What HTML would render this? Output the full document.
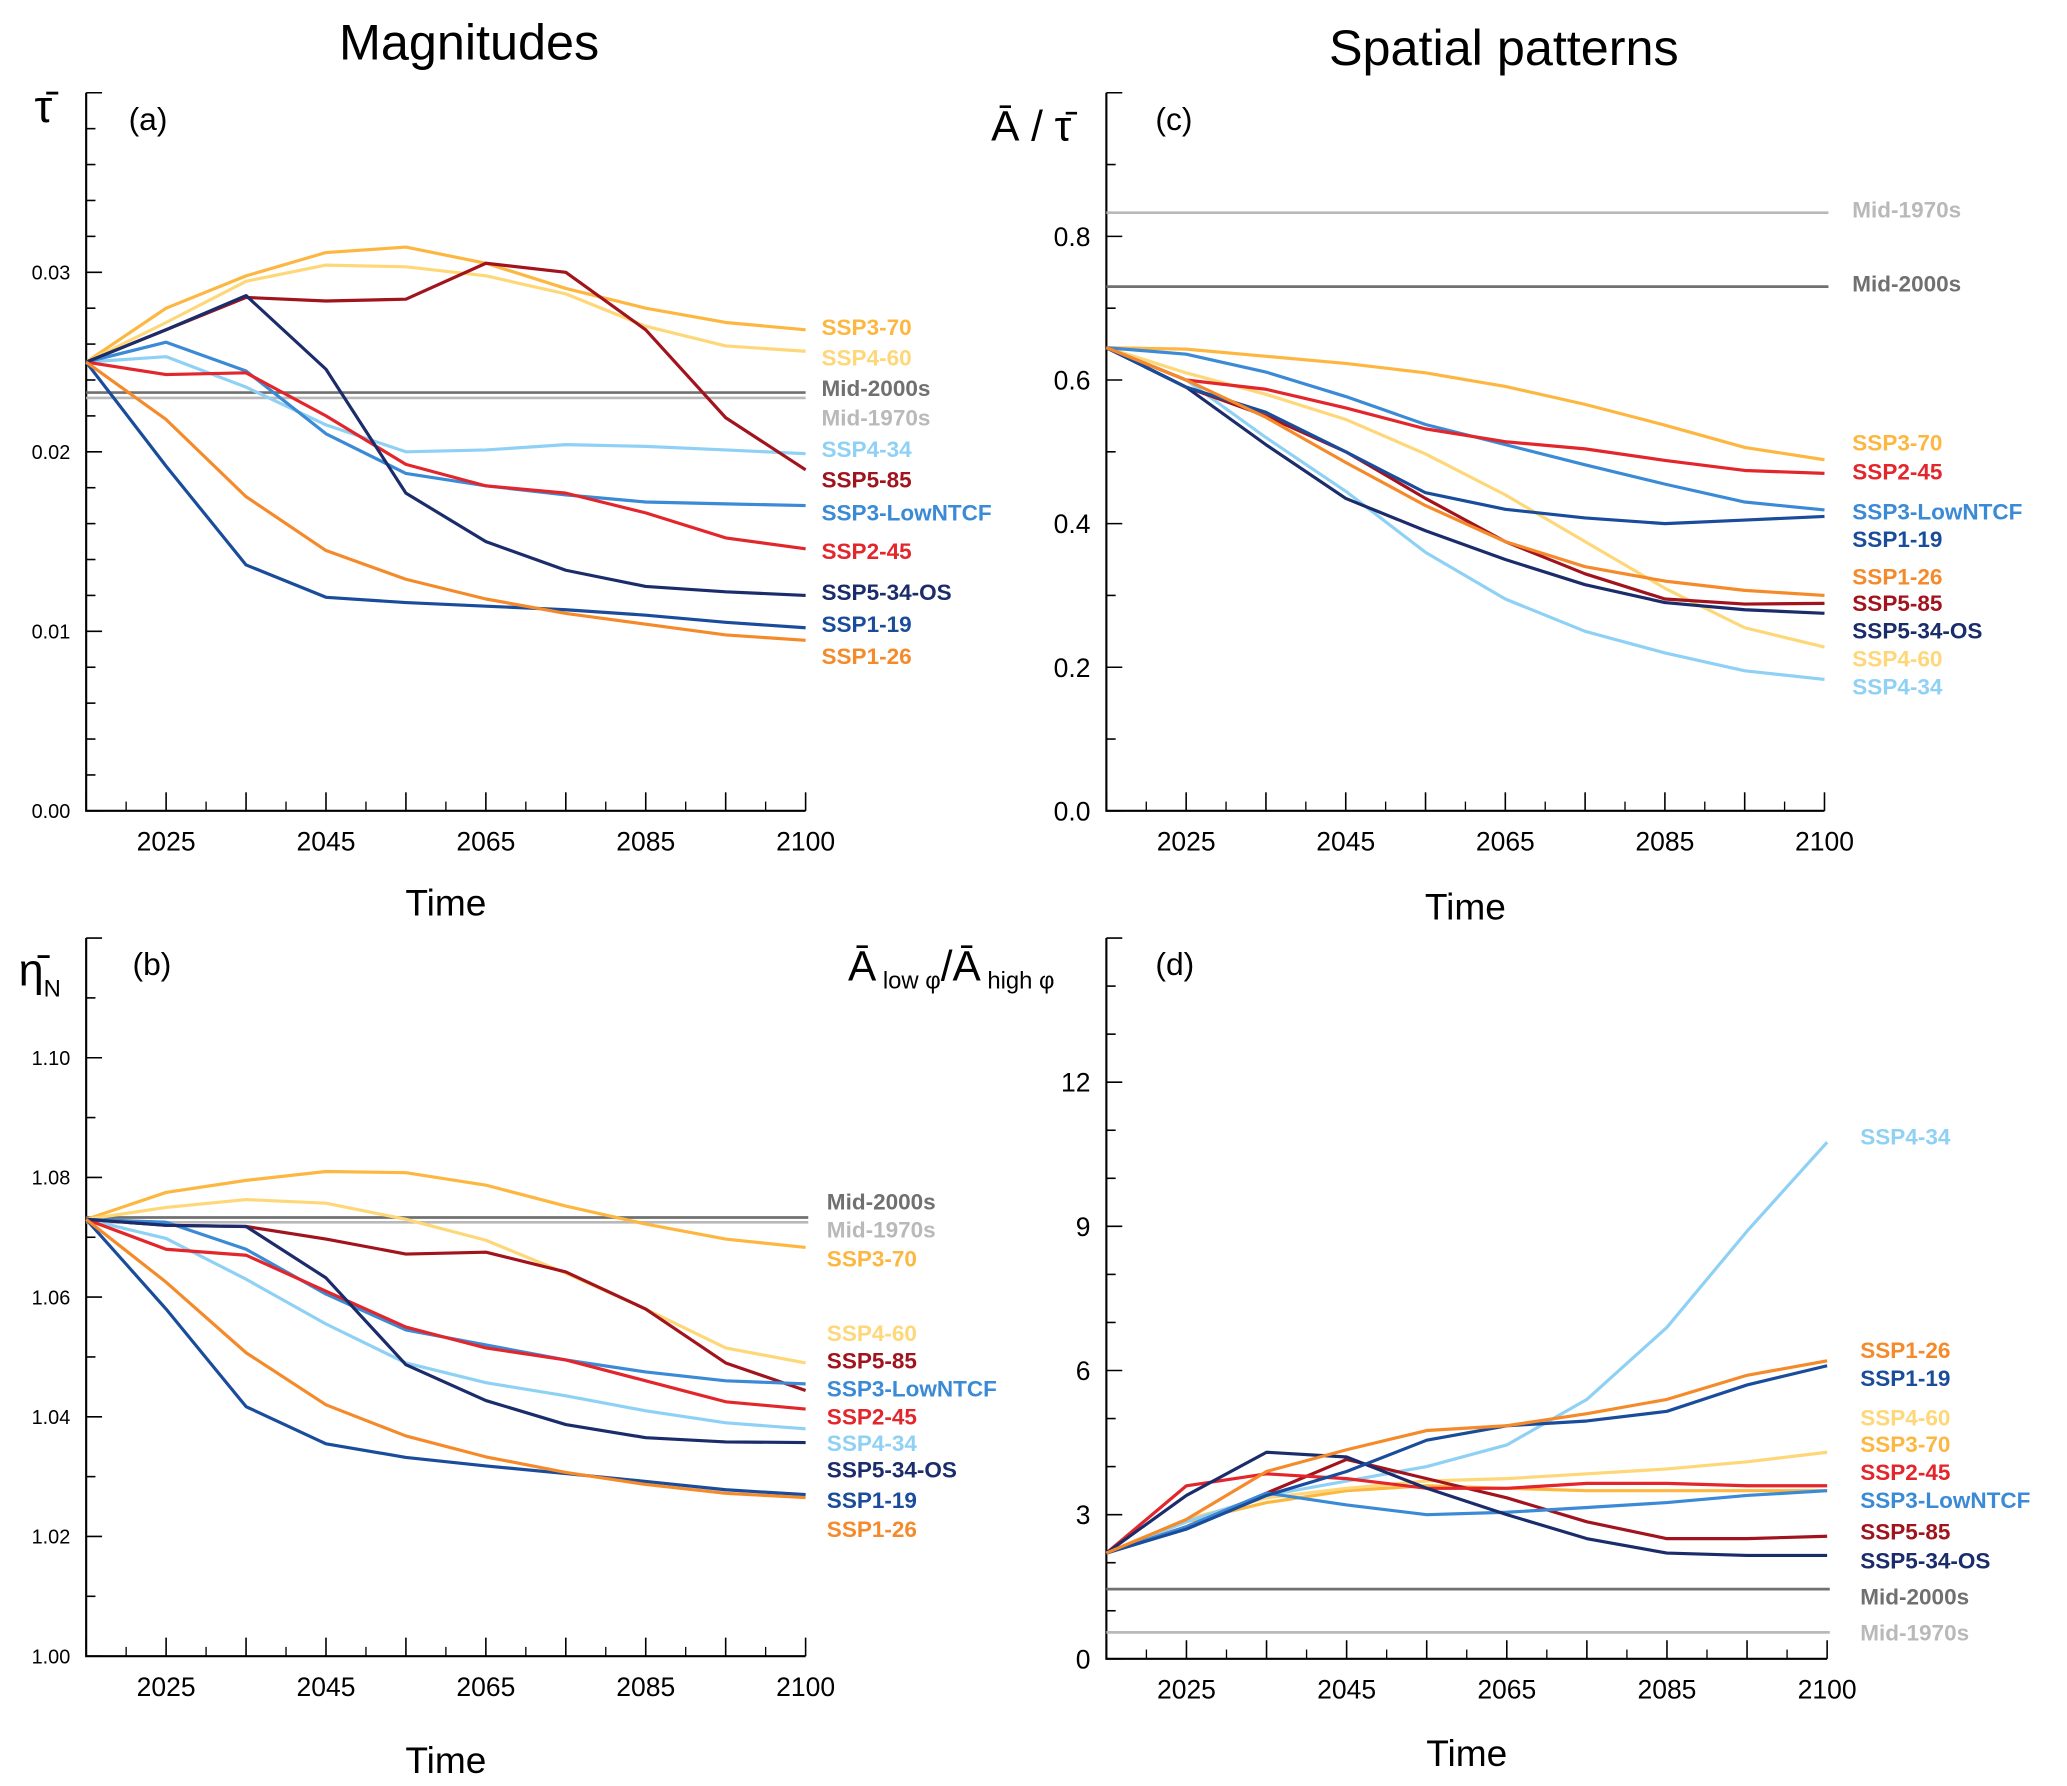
<!DOCTYPE html>
<html><head><meta charset="utf-8">
<style>
html,body{margin:0;padding:0;background:#fff}
svg{display:block}
text{font-family:"Liberation Sans",sans-serif}
</style></head>
<body>
<svg id="chart" width="2067" height="1786" viewBox="0 0 1560 1348" xmlns="http://www.w3.org/2000/svg">
<text x="354" y="45" font-size="38" text-anchor="middle">Magnitudes</text>
<text x="1135" y="49" font-size="38" text-anchor="middle">Spatial patterns</text>
<text x="26" y="92" font-size="34">τ̄</text>
<text x="748" y="106" font-size="32">Ā / τ̄</text>
<text x="14" y="744" font-size="34">η̄<tspan font-size="18" dy="8">N</tspan></text>
<text x="640" y="740" font-size="32">Ā<tspan font-size="18" dy="6"> low φ</tspan><tspan dy="-6">/Ā</tspan><tspan font-size="18" dy="6"> high φ</tspan></text>
<g id="panels"></g>
</svg>
<script>
const xLabels = ["", "2025", "", "2045", "", "2065", "", "2085", "", "2100"];
const seriesNames = ["SSP3-70","SSP4-60","SSP4-34","SSP5-85","SSP3-LowNTCF","SSP2-45","SSP5-34-OS","SSP1-19","SSP1-26"];
const seriesColors = {"SSP3-70":"#fdb740","SSP4-60":"#fed779","SSP4-34":"#8fd1f5","SSP5-85":"#a1141d","SSP3-LowNTCF":"#3b8ad6","SSP2-45":"#e2262b","SSP5-34-OS":"#1b2c6b","SSP1-19":"#1a4c9c","SSP1-26":"#f58a2b","Mid-2000s":"#707070","Mid-1970s":"#b9b9b9"};

const aValues = {
"SSP3-70":[0.025,0.0280,0.0298,0.0311,0.0314,0.0305,0.0291,0.0280,0.0272,0.0268],
"SSP4-60":[0.025,0.0272,0.0295,0.0304,0.0303,0.0298,0.0288,0.0270,0.0259,0.0256],
"SSP5-85":[0.025,0.0268,0.0286,0.0284,0.0285,0.0305,0.0300,0.0268,0.0219,0.0190],
"SSP5-34-OS":[0.025,0.0268,0.0287,0.0246,0.0177,0.0150,0.0134,0.0125,0.0122,0.0120],
"SSP3-LowNTCF":[0.025,0.0261,0.0245,0.0210,0.0188,0.0181,0.0176,0.0172,0.0171,0.0170],
"SSP4-34":[0.025,0.0253,0.0236,0.0215,0.0200,0.0201,0.0204,0.0203,0.0201,0.0199],
"SSP2-45":[0.025,0.0243,0.0244,0.0220,0.0193,0.0181,0.0177,0.0166,0.0152,0.0146],
"SSP1-19":[0.025,0.0192,0.0137,0.0119,0.0116,0.0114,0.0112,0.0109,0.0105,0.0102],
"SSP1-26":[0.025,0.0218,0.0175,0.0145,0.0129,0.0118,0.0110,0.0104,0.0098,0.0095]};
const aRefs = {"Mid-2000s":0.0233,"Mid-1970s":0.0230};
const aTicks = ["0.00","0.01","0.02","0.03"];

const cValues = {
"SSP3-70":[0.645,0.643,0.633,0.623,0.610,0.591,0.566,0.537,0.506,0.489],
"SSP2-45":[0.645,0.600,0.587,0.561,0.532,0.514,0.504,0.488,0.474,0.470],
"SSP3-LowNTCF":[0.645,0.636,0.611,0.577,0.538,0.510,0.482,0.455,0.430,0.419],
"SSP1-19":[0.645,0.590,0.555,0.500,0.443,0.420,0.408,0.400,0.405,0.410],
"SSP1-26":[0.645,0.600,0.548,0.485,0.425,0.375,0.340,0.320,0.307,0.300],
"SSP5-85":[0.645,0.590,0.550,0.500,0.435,0.375,0.330,0.295,0.288,0.289],
"SSP5-34-OS":[0.645,0.590,0.510,0.435,0.390,0.350,0.315,0.290,0.280,0.275],
"SSP4-60":[0.645,0.610,0.580,0.545,0.497,0.440,0.375,0.310,0.255,0.228],
"SSP4-34":[0.645,0.600,0.520,0.445,0.360,0.295,0.250,0.220,0.195,0.183]};
const cRefs = {"Mid-1970s":0.833,"Mid-2000s":0.730};
const cTicks = ["0.0","0.2","0.4","0.6","0.8"];

const bValues = {
"SSP3-70":[1.073,1.0775,1.0795,1.081,1.0808,1.0787,1.0752,1.0722,1.0697,1.0683],
"SSP4-60":[1.073,1.075,1.0763,1.0757,1.073,1.0695,1.064,1.058,1.0515,1.049],
"SSP5-85":[1.073,1.072,1.0718,1.0697,1.0672,1.0675,1.0642,1.058,1.049,1.0444],
"SSP5-34-OS":[1.073,1.072,1.0718,1.0632,1.0487,1.0427,1.0387,1.0365,1.0358,1.0357],
"SSP3-LowNTCF":[1.073,1.0725,1.068,1.0605,1.0545,1.052,1.0495,1.0475,1.046,1.0455],
"SSP2-45":[1.073,1.068,1.067,1.061,1.055,1.0515,1.0495,1.046,1.0425,1.0413],
"SSP4-34":[1.073,1.0698,1.063,1.0555,1.049,1.0457,1.0435,1.041,1.039,1.038],
"SSP1-19":[1.073,1.058,1.0417,1.0355,1.0332,1.0318,1.0305,1.0292,1.0278,1.0270],
"SSP1-26":[1.073,1.0625,1.0507,1.042,1.0368,1.0333,1.0307,1.0287,1.0272,1.0265]};
const bRefs = {"Mid-2000s":1.0733,"Mid-1970s":1.0725};
const bTicks = ["1.00","1.02","1.04","1.06","1.08","1.10"];

const dValues = {
"SSP4-34":[2.2,2.85,3.4,3.7,4.0,4.45,5.4,6.9,8.9,10.75],
"SSP1-26":[2.2,2.9,3.9,4.35,4.75,4.85,5.1,5.4,5.9,6.2],
"SSP1-19":[2.2,2.7,3.4,3.9,4.55,4.85,4.95,5.15,5.7,6.1],
"SSP4-60":[2.2,2.9,3.35,3.55,3.7,3.75,3.85,3.95,4.1,4.3],
"SSP3-70":[2.2,2.85,3.25,3.5,3.6,3.55,3.5,3.5,3.5,3.5],
"SSP2-45":[2.2,3.6,3.85,3.75,3.55,3.55,3.65,3.65,3.6,3.6],
"SSP3-LowNTCF":[2.2,2.75,3.45,3.2,3.0,3.05,3.15,3.25,3.4,3.5],
"SSP5-85":[2.2,2.75,3.45,4.15,3.75,3.35,2.85,2.5,2.5,2.55],
"SSP5-34-OS":[2.2,3.4,4.3,4.2,3.55,3.0,2.5,2.2,2.15,2.15]};
const dRefs = {"Mid-2000s":1.45,"Mid-1970s":0.55};
const dTicks = ["0","3","6","9","12"];

const NS = "http://www.w3.org/2000/svg";
const root = document.getElementById("panels");
function mk(tag, attrs, parent){const e=document.createElementNS(NS,tag);for(const k in attrs)e.setAttribute(k,attrs[k]);(parent||root).appendChild(e);return e;}

function panel(cfg){
  const g = mk("g",{});
  
  
  const {x0,x1,yTop,yBot,vMin,vMax} = cfg;
  const n = xLabels.length;
  const xs = i => x0 + (x1-x0)*i/(n-1);
  const ys = v => yBot - (v - vMin)/(vMax - vMin)*(yBot - yTop);
  const ax = mk("path",{d:`M${x0},${yTop}V${yBot}H${x1}`,stroke:"#000","stroke-width":1.6,fill:"none"},g);
  
  
  const majorStep = (vMax - vMin)/ (cfg.ticks.length - 1 + cfg.extraMajor);
  const nMinor = cfg.minorPer;
  const totalMinor = Math.round((vMax-vMin)/majorStep*nMinor);
  for(let k=0;k<=totalMinor;k++){
    const v = vMin + k*majorStep/nMinor;
    const y = ys(v);
    const isMaj = k % nMinor === 0;
    const t = mk("line",{x1:x0,x2:x0+(isMaj?12:7),y1:y,y2:y,stroke:"#000","stroke-width":1.2},g);
    
    
  }
  cfg.ticks.forEach((lab,k)=>{
    const v = vMin + k*majorStep;
    const t = mk("text",{x:x0-12,y:ys(v)+cfg.tickFs*0.36,"font-size":cfg.tickFs,"text-anchor":"end"},g);
    t.textContent = lab;
    
    
  });
  for(let i=0;i<n;i++){
    const t = mk("line",{x1:xs(i),x2:xs(i),y1:yBot,y2:yBot-14,stroke:"#000","stroke-width":1.2},g);
    
    
    if(i<n-1){
      const m = mk("line",{x1:(xs(i)+xs(i+1))/2,x2:(xs(i)+xs(i+1))/2,y1:yBot,y2:yBot-7,stroke:"#000","stroke-width":1},g);
      
      
    }
    if(xLabels[i]){
      const l = mk("text",{x:xs(i),y:yBot+30,"font-size":20,"text-anchor":"middle"},g);
      l.textContent = xLabels[i];
      
      
    }
  }
  const xt = mk("text",{x:(x0+x1)/2,y:cfg.timeY,"font-size":28,"text-anchor":"middle"},g);
  xt.textContent = "Time";
  
  
  const pl = mk("text",{x:cfg.letterX,y:yTop+28,"font-size":24},g);
  pl.textContent = "(" + cfg.id + ")";
  
  
  for(const name in cfg.refs){
    const y = ys(cfg.refs[name]);
    const r = mk("line",{x1:x0,x2:cfg.refEnd,y1:y,y2:y,stroke:seriesColors[name],"stroke-width":2},g);
    
    
  }
  seriesNames.forEach(name=>{
    const vals = cfg.values[name];
    const d = vals.map((v,i)=>(i?"L":"M")+xs(i).toFixed(1)+","+ys(v).toFixed(1)).join("");
    const p = mk("path",{d:d,stroke:seriesColors[name],"stroke-width":2.4,fill:"none","stroke-linejoin":"round"},g);
    
    
  });
  for(const name in cfg.labelY){
    const t = mk("text",{x:cfg.labelX,y:cfg.labelY[name]+6,"font-size":17,"font-weight":"bold",fill:seriesColors[name]},g);
    t.textContent = name;
    
    
  }
}

panel({id:"a",x0:65,x1:608,yTop:70,yBot:612,vMin:0,vMax:0.04,ticks:aTicks,extraMajor:1,minorPer:5,tickFs:15,
 values:aValues,refs:aRefs,refEnd:608,timeY:691,letterX:97,labelX:620,
 labelY:{"SSP3-70":247,"SSP4-60":270,"Mid-2000s":293,"Mid-1970s":315,"SSP4-34":339,"SSP5-85":362,"SSP3-LowNTCF":387,"SSP2-45":416,"SSP5-34-OS":447,"SSP1-19":471,"SSP1-26":495}});
panel({id:"c",x0:835,x1:1377,yTop:70,yBot:612,vMin:0,vMax:1.0,ticks:cTicks,extraMajor:1,minorPer:2,tickFs:20,
 values:cValues,refs:cRefs,refEnd:1380,timeY:694,letterX:872,labelX:1398,
 labelY:{"Mid-1970s":158,"Mid-2000s":214,"SSP3-70":334,"SSP2-45":356,"SSP3-LowNTCF":386,"SSP1-19":407,"SSP1-26":435,"SSP5-85":455,"SSP5-34-OS":476,"SSP4-60":497,"SSP4-34":518}});
panel({id:"b",x0:65,x1:608,yTop:708,yBot:1250,vMin:1.0,vMax:1.12,ticks:bTicks,extraMajor:1,minorPer:2,tickFs:15,
 values:bValues,refs:bRefs,refEnd:610,timeY:1338,letterX:100,labelX:624,
 labelY:{"Mid-2000s":907,"Mid-1970s":928,"SSP3-70":950,"SSP4-60":1006,"SSP5-85":1027,"SSP3-LowNTCF":1048,"SSP2-45":1069,"SSP4-34":1089,"SSP5-34-OS":1109,"SSP1-19":1132,"SSP1-26":1154}});
panel({id:"d",x0:835,x1:1379,yTop:708,yBot:1252,vMin:0,vMax:15,ticks:dTicks,extraMajor:1,minorPer:3,tickFs:20,
 values:dValues,refs:dRefs,refEnd:1381,timeY:1333,letterX:872,labelX:1404,
 labelY:{"SSP4-34":858,"SSP1-26":1019,"SSP1-19":1040,"SSP4-60":1070,"SSP3-70":1090,"SSP2-45":1111,"SSP3-LowNTCF":1132,"SSP5-85":1156,"SSP5-34-OS":1178,"Mid-2000s":1205,"Mid-1970s":1232}});
</script>
</body></html>
